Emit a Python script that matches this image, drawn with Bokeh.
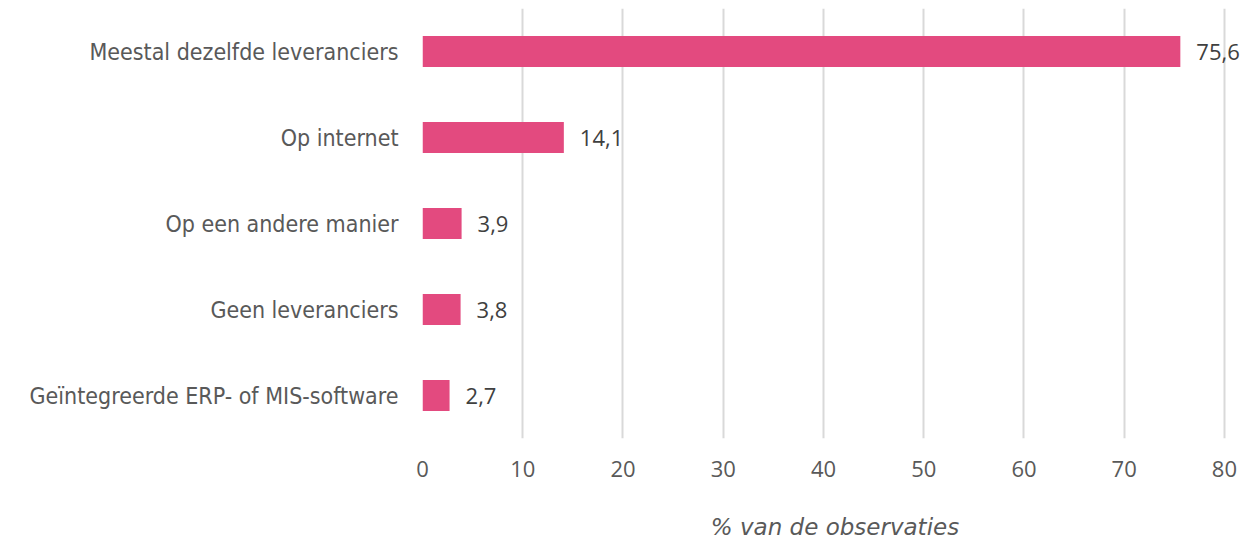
from bokeh.plotting import figure
from bokeh.models import ColumnDataSource, FactorRange, Range1d, FixedTicker
from bokeh.core.properties import value
from bokeh.embed import file_html
from bokeh.resources import INLINE

categories = ["Meestal dezelfde leveranciers", "Op internet", "Op een andere manier",
              "Geen leveranciers", "Geïntegreerde ERP- of MIS-software"]
values = [75.6, 14.1, 3.9, 3.8, 2.7]
value_labels = ["75,6", "14,1", "3,9", "3,8", "2,7"]
x_ticks = [0, 10, 20, 30, 40, 50, 60, 70, 80]

src = ColumnDataSource(dict(cat=categories, val=values, lab=value_labels))

p = figure(width=1247, height=542, output_backend="svg", toolbar_location=None,
           y_range=FactorRange(factors=list(reversed(categories)), range_padding=0),
           x_range=Range1d(0, 82.3))
p.min_border_top = 8
p.min_border_right = 0
p.min_border_left = 422
p.min_border_bottom = 0
p.outline_line_color = None
p.background_fill_color = "white"
p.border_fill_color = "white"

p.hbar(y="cat", right="val", left=0, height=0.36, source=src,
       fill_color="#E34A7F", line_color=None)
p.text(x="val", y="cat", text="lab", source=src, x_offset=16,
       text_baseline="middle", text_align="left", text_color="#404040",
       text_font=value("Open Sans"), text_font_size="22px")

p.xaxis.ticker = FixedTicker(ticks=x_ticks)
p.xaxis.axis_line_color = None
p.xaxis.major_tick_line_color = None
p.xaxis.minor_tick_line_color = None
p.xaxis.major_label_text_font = "Open Sans"
p.xaxis.major_label_text_font_size = "22px"
p.xaxis.major_label_text_color = "#595959"
p.xaxis.major_label_standoff = 16
p.xaxis.axis_label = "% van de observaties"
p.xaxis.axis_label_text_font = "DejaVu Sans"
p.xaxis.axis_label_text_font_style = "italic"
p.xaxis.axis_label_text_font_size = "23px"
p.xaxis.axis_label_text_color = "#595959"
p.xaxis.axis_label_standoff = 34

p.yaxis.axis_line_color = None
p.yaxis.major_tick_line_color = None
p.yaxis.minor_tick_line_color = None
p.yaxis.major_label_text_font = "DejaVu Sans Condensed"
p.yaxis.major_label_text_font_size = "23px"
p.yaxis.major_label_text_color = "#595959"
p.yaxis.major_label_standoff = 18

p.ygrid.grid_line_color = None
p.xgrid.grid_line_color = "#D9D9D9"
p.xgrid.grid_line_width = 2

open("out.html", "w").write(file_html(p, INLINE))
